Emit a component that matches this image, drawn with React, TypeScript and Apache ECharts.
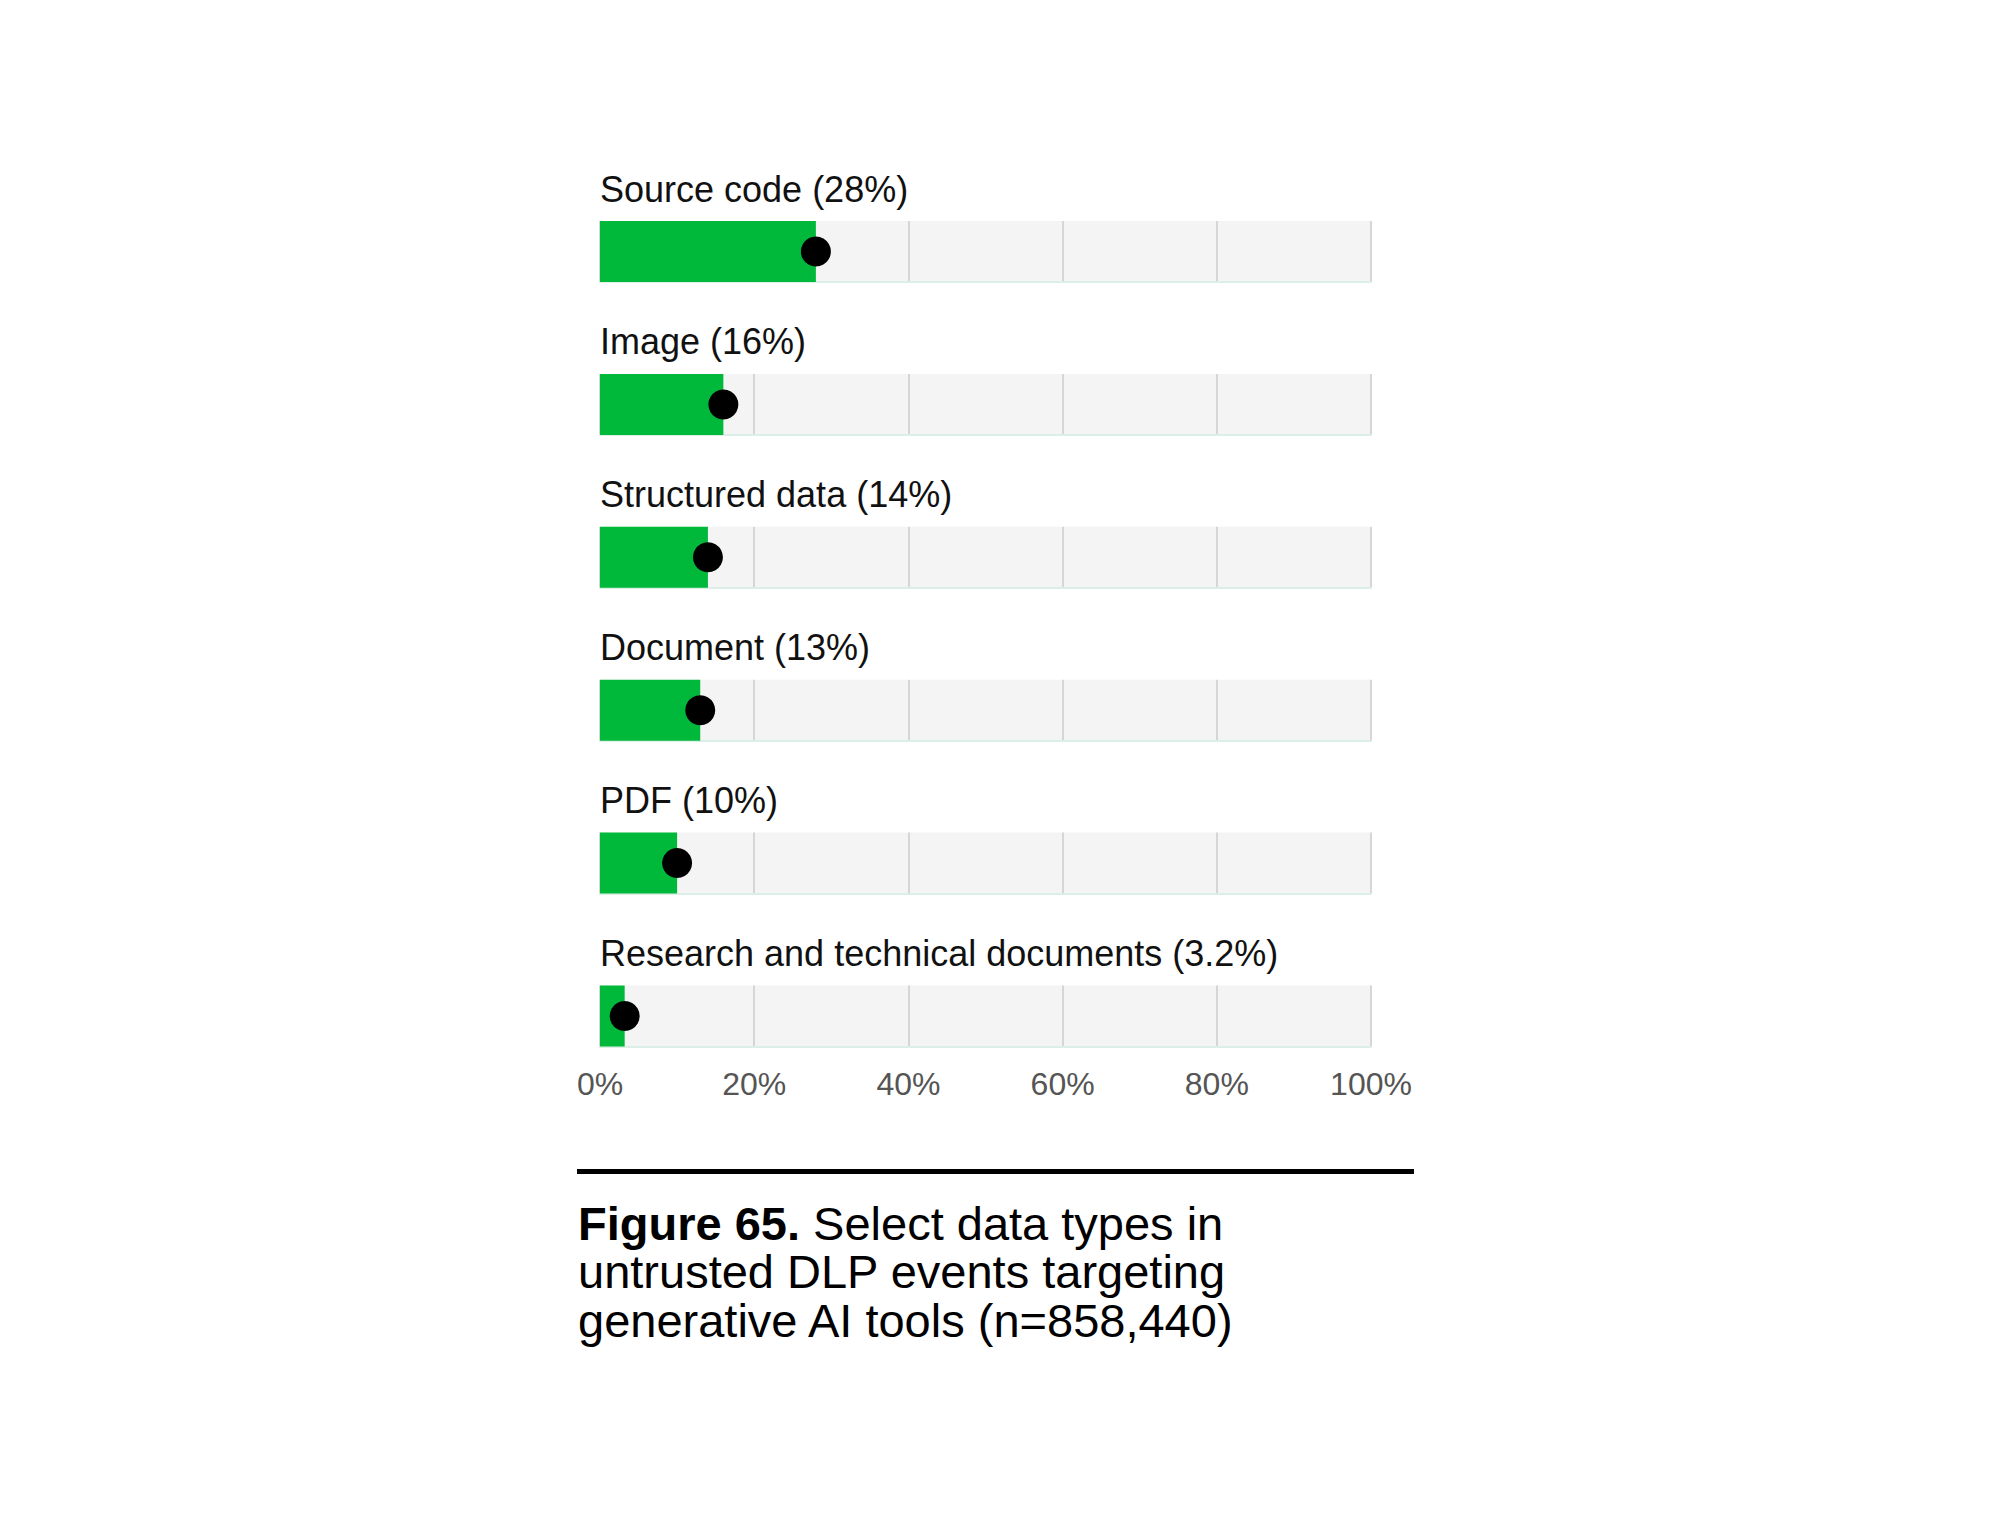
import React, { useEffect, useRef } from "react";
import * as echarts from "echarts";

const categories = [
  "Source code",
  "Image",
  "Structured data",
  "Document",
  "PDF",
  "Research and technical documents",
];
const shares = [28, 16, 14, 13, 10, 3.2];

const captionBold = "Figure 65.";
const captionLines = [
  " Select data types in",
  "untrusted DLP events targeting",
  "generative AI tools (n=858,440)",
];

const FONT = "'Liberation Sans', Arial, Helvetica, sans-serif";
const GREEN = "#00b93a";

const App = () => {
  const chartRef = useRef<HTMLDivElement>(null);

  useEffect(() => {
    if (!chartRef.current) return;
    const chart = echarts.init(chartRef.current, undefined, { renderer: "svg" });

    const rowTop = 221;
    const rowStep = 152.9;
    const barH = 61;
    const left = 600;
    const right = 628;

    const grids: any[] = [];
    const xAxes: any[] = [];
    const yAxes: any[] = [];
    const series: any[] = [];

    categories.forEach((name, i) => {
      const last = i === categories.length - 1;
      grids.push({
        left,
        right,
        top: rowTop + i * rowStep,
        height: barH,
        show: true,
        backgroundColor: "#f4f4f4",
        borderWidth: 0,
      });
      xAxes.push({
        type: "value",
        gridIndex: i,
        min: 0,
        max: 100,
        interval: 20,
        axisLine: { show: true, lineStyle: { color: "#dcefe6", width: 2 } },
        axisTick: { show: false },
        axisLabel: {
          show: last,
          formatter: "{value}%",
          color: "#555555",
          fontSize: 32,
          fontFamily: FONT,
          margin: 21,
        },
        splitLine: { show: true, lineStyle: { color: "#d6d6d6", width: 2 } },
      });
      yAxes.push({
        type: "category",
        gridIndex: i,
        data: [name],
        show: false,
      });
      series.push({
        type: "bar",
        xAxisIndex: i,
        yAxisIndex: i,
        data: [{ name, value: shares[i] }],
        barWidth: "100%",
        itemStyle: { color: GREEN },
        label: {
          show: true,
          position: [0, -32],
          align: "left",
          verticalAlign: "middle",
          formatter: "{b} ({c}%)",
          color: "#111111",
          fontSize: 36,
          fontFamily: FONT,
        },
        z: 2,
      });
      series.push({
        type: "scatter",
        xAxisIndex: i,
        yAxisIndex: i,
        data: [[shares[i], name]],
        symbol: "circle",
        symbolSize: 30,
        itemStyle: { color: "#000000", opacity: 1 },
        z: 3,
      });
    });

    const option: echarts.EChartsOption = {
      animation: false,
      backgroundColor: "#ffffff",
      title: {
        left: 578,
        top: 1199,
        padding: 0,
        text: `{b|${captionBold}}${captionLines.join("\n")}`,
        textStyle: {
          fontFamily: FONT,
          fontSize: 47,
          lineHeight: 48.5,
          fontWeight: "normal",
          color: "#000000",
          rich: {
            b: {
              fontFamily: FONT,
              fontSize: 47,
              lineHeight: 48.5,
              fontWeight: "bold",
              color: "#000000",
            },
          },
        },
      },
      graphic: [
        {
          type: "line",
          shape: { x1: 577, y1: 1171.5, x2: 1414, y2: 1171.5 },
          style: { stroke: "#000000", lineWidth: 5 },
        },
      ],
      grid: grids,
      xAxis: xAxes,
      yAxis: yAxes,
      series,
    };

    chart.setOption(option);

    const handleResize = () => chart.resize();
    window.addEventListener("resize", handleResize);

    return () => {
      chart.dispose();
      window.removeEventListener("resize", handleResize);
    };
  }, []);

  return (
    <div
      ref={chartRef}
      style={{ position: "absolute", left: 0, top: 0, width: "1999px", height: "1521px" }}
    />
  );
};

export default App;
